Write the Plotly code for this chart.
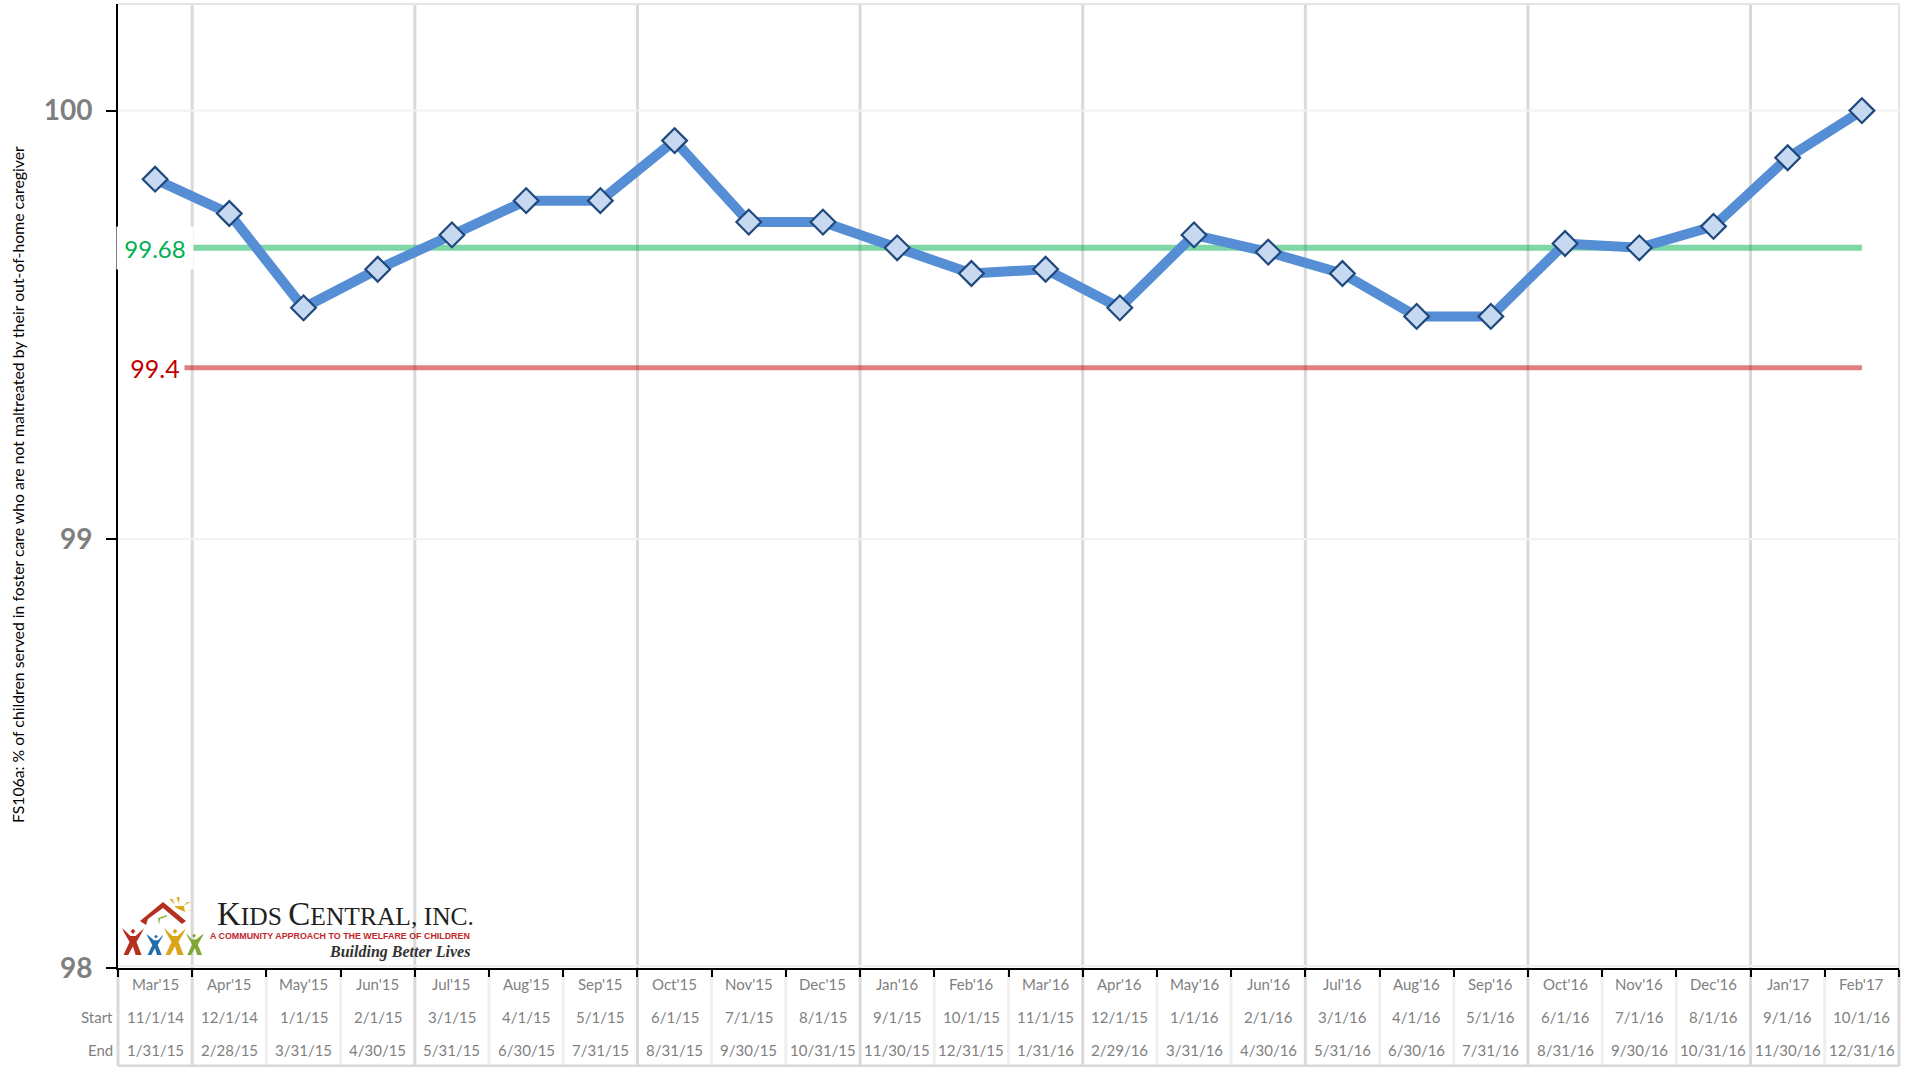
import plotly.graph_objects as go

months = ["Mar'15","Apr'15","May'15","Jun'15","Jul'15","Aug'15","Sep'15","Oct'15","Nov'15","Dec'15","Jan'16","Feb'16",
          "Mar'16","Apr'16","May'16","Jun'16","Jul'16","Aug'16","Sep'16","Oct'16","Nov'16","Dec'16","Jan'17","Feb'17"]
starts = ["11/1/14","12/1/14","1/1/15","2/1/15","3/1/15","4/1/15","5/1/15","6/1/15","7/1/15","8/1/15","9/1/15","10/1/15",
          "11/1/15","12/1/15","1/1/16","2/1/16","3/1/16","4/1/16","5/1/16","6/1/16","7/1/16","8/1/16","9/1/16","10/1/16"]
ends = ["1/31/15","2/28/15","3/31/15","4/30/15","5/31/15","6/30/15","7/31/15","8/31/15","9/30/15","10/31/15","11/30/15","12/31/15",
        "1/31/16","2/29/16","3/31/16","4/30/16","5/31/16","6/30/16","7/31/16","8/31/16","9/30/16","10/31/16","11/30/16","12/31/16"]
values = [99.84,99.76,99.54,99.63,99.71,99.79,99.79,99.93,99.74,99.74,99.68,99.62,
          99.63,99.54,99.71,99.67,99.62,99.52,99.52,99.69,99.68,99.73,99.89,100.0]
target = 99.68
floor_ = 99.4
y_title = "FS106a: % of children served in foster care who are not maltreated by their out-of-home caregiver"

W, H = 1908, 1067
L, R, T, B = 118, 1899, 4, 968
FONT = "Lato"
GREY = "#7f7f7f"

def px(x): return (x - L) / (R - L)
def py(y): return (B - y) / (B - T)

xs = list(range(len(months)))
fig = go.Figure()
fig.add_trace(go.Scatter(x=xs, y=[floor_] * len(xs), mode="lines", line=dict(color="rgba(192,0,0,0.5)", width=5), hoverinfo="skip"))
fig.add_trace(go.Scatter(x=xs, y=[target] * len(xs), mode="lines", line=dict(color="rgba(0,176,80,0.5)", width=6), hoverinfo="skip"))
fig.add_trace(go.Scatter(x=xs, y=values, mode="lines+markers", line=dict(color="#558ed5", width=10),
                         marker=dict(symbol="diamond", size=19, color="#c6d9f1", line=dict(color="#1f497d", width=2.2))))

shapes = []
def seg(x0, y0, x1, y1, color, width, xref="x", yref="paper", layer="below"):
    shapes.append(dict(type="line", x0=x0, y0=y0, x1=x1, y1=y1, xref=xref, yref=yref,
                       line=dict(color=color, width=width), layer=layer))

for i in xs:
    b = i + 0.5
    if i % 3 == 0:
        seg(b, py(T), b, py(1066), "#d9d9d9", 3)
    else:
        seg(b, py(B), b, py(1066), "#efefef", 3)
seg(0, py(1066), 1, py(1066), "#d9d9d9", 3, xref="paper")
seg(0, py(B), 0, py(1066), "#d9d9d9", 3, xref="paper")
seg(1, py(B), 1, py(1066), "#d9d9d9", 3, xref="paper")
seg(1, py(T), 1, py(B), "#e4e4e4", 2, xref="paper")
seg(0, py(T), 1, py(T), "#e4e4e4", 2, xref="paper")
seg(0, py(B - 2), 1, py(B - 2), "#eeeeee", 2, xref="paper")
for v in (99, 100):
    seg(0, v, 1, v, "#f2f2f2", 2, xref="paper", yref="y")

def poly(pts, color):
    d = "M " + " L ".join(f"{px(a):.5f},{py(b):.5f}" for a, b in pts) + " Z"
    shapes.append(dict(type="path", path=d, xref="paper", yref="paper", fillcolor=color,
                       line=dict(width=0), layer="above"))

def person(cx, top, h, color, lean=0):
    w = h * 0.8
    poly([(cx - w*.5, top), (cx - w*.12 + lean, top + h*.30), (cx + w*.12 + lean, top + h*.30), (cx + w*.5, top + h*.02),
          (cx + w*.42, top + h*.16), (cx + w*.16, top + h*.52), (cx + w*.40, top + h), (cx + w*.12, top + h),
          (cx, top + h*.68), (cx - w*.22, top + h), (cx - w*.44, top + h), (cx - w*.16, top + h*.52), (cx - w*.42, top + h*.16)], color)
    r = h * .09
    poly([(cx + lean - r, top + h*.12), (cx + lean, top + h*.03), (cx + lean + r, top + h*.12), (cx + lean, top + h*.22)], color)

poly([(140, 921), (163, 902), (186, 921), (182, 924), (163, 908), (148, 919), (146, 925)], "#b5301e")
poly([(158, 918), (167, 915), (167, 916.5), (160, 919), (159, 925)], "#8db33a")
for a, b, c, d in [(171, 899, 175, 905), (178, 897, 179, 904), (189, 902, 183, 906), (192, 911, 184, 910)]:
    poly([(a - 1.5, b), (a + 1.5, b), (c, d)], "#e0a820")
poly([(174, 906), (184, 906), (185, 912), (178, 909)], "#e0a820")
person(133, 928, 27, "#b5301e")
person(155, 934, 21, "#1f6fae", lean=1)
person(175, 928, 27, "#dba515")
person(195, 933, 22, "#7fa832", lean=-1)

anns = []
def txt(x, y, s, size=15, color=GREY, xref="x", **kw):
    kw.setdefault("xanchor", "center")
    anns.append(dict(x=x, y=py(y), xref=xref, yref="paper", text=s, showarrow=False, yanchor="middle",
                     font=dict(family=kw.pop("family", FONT), size=size, color=color), **kw))

for i in xs:
    txt(i, 984.5, months[i])
    txt(i, 1016.5, starts[i])
    txt(i, 1049.5, ends[i])
txt(px(115), 1016.5, "Start", xref="paper", xanchor="right")
txt(px(115), 1049.5, "End", xref="paper", xanchor="right")
txt(px(17), 485, y_title, size=15.8, color="#000000", xref="paper", textangle=-90)

anns.append(dict(x=0, y=target, xref="x", yref="y", text=str(target), showarrow=False, bgcolor="#ffffff",
                 width=74, height=40, font=dict(family=FONT, size=24, color="#00b050")))
anns.append(dict(x=0, y=floor_, xref="x", yref="y", text=str(floor_), showarrow=False, bgcolor="#ffffff",
                 width=56, height=28, font=dict(family=FONT, size=25, color="#c00000")))

txt(px(215), 914, '<span style="font-size:33px">K</span>IDS <span style="font-size:33px">C</span>ENTRAL, INC.',
    size=25.5, color="#231f20", xref="paper", xanchor="left", family="Liberation Serif")
txt(px(472), 936, "<b>A COMMUNITY APPROACH TO THE WELFARE OF CHILDREN</b>", size=8.9, color="#c1272d", xref="paper",
    xanchor="right", family="Liberation Sans")
txt(px(472), 951.5, "<b><i>Building Better Lives</i></b>", size=16, color="#333333", xref="paper", xanchor="right",
    family="Liberation Serif")

fig.update_layout(
    width=W, height=H, margin=dict(l=L, r=W - R, t=T, b=H - B, autoexpand=False),
    paper_bgcolor="#ffffff", plot_bgcolor="#ffffff", showlegend=False,
    shapes=shapes, annotations=anns,
    xaxis=dict(range=[-0.5, 23.5], tickvals=[i - 0.5 for i in range(25)], showticklabels=False, ticks="outside",
               ticklen=7, tickwidth=2, tickcolor="#000000", showgrid=False, zeroline=False,
               showline=True, linecolor="#000000", linewidth=2),
    yaxis=dict(range=[98, 100.2487], tickvals=[98, 99, 100], ticktext=["98", "99", "100"], ticks="outside",
               ticklen=10, tickwidth=2, tickcolor="#000000", showgrid=False, zeroline=False,
               showline=True, linecolor="#000000", linewidth=2, ticklabelstandoff=8,
               tickfont=dict(family=FONT, size=28, color=GREY, weight="bold")),
)

fig.write_html("out.html", config=dict(displayModeBar=False),
               post_script="document.body.style.margin='0';")
